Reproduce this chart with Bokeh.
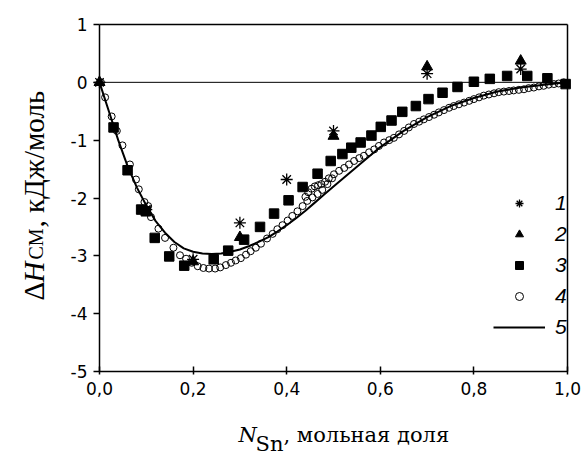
import math
from bokeh.plotting import figure
from bokeh.models import Label, Legend, LegendItem, FixedTicker, Range1d, LinearAxis
from bokeh.embed import file_html
from bokeh.resources import INLINE

# ---- data ----
x_ticks = [0.0, 0.2, 0.4, 0.6, 0.8, 1.0]
x_tick_labels = ["0,0", "0,2", "0,4", "0,6", "0,8", "1,0"]
y_ticks = [-5, -4, -3, -2, -1, 0, 1]
y_tick_labels = ["-5", "-4", "-3", "-2", "-1", "0", "1"]
legend_labels = ["1", "2", "3", "4", "5"]

s1_x = [0.0, 0.1, 0.2, 0.3, 0.4, 0.5, 0.7, 0.9]
s1_y = [0.0, -2.2, -3.06, -2.43, -1.68, -0.84, 0.15, 0.23]

s2_x = [0.0, 0.1, 0.2, 0.3, 0.5, 0.7, 0.9]
s2_y = [0.0, -2.22, -3.1, -2.68, -0.93, 0.27, 0.37]

s3_x = [0.030, 0.060, 0.089, 0.099, 0.118, 0.149, 0.181, 0.244, 0.275, 0.309,
        0.343, 0.373, 0.404, 0.434, 0.466, 0.494, 0.519, 0.538, 0.558, 0.581,
        0.601, 0.624, 0.647, 0.676, 0.703, 0.733, 0.765, 0.800, 0.834, 0.871,
        0.914, 0.957, 0.996]
s3_y = [-0.78, -1.52, -2.20, -2.23, -2.69, -3.01, -3.17, -3.06, -2.91, -2.72,
        -2.50, -2.27, -2.04, -1.81, -1.58, -1.36, -1.24, -1.13, -1.04, -0.92,
        -0.77, -0.66, -0.51, -0.41, -0.29, -0.18, -0.08, 0.01, 0.06, 0.11,
        0.11, 0.07, -0.03]

s4_x = [0.003, 0.012, 0.026, 0.037, 0.049, 0.065, 0.078, 0.084, 0.096, 0.104,
        0.110, 0.126, 0.140, 0.158, 0.172, 0.185, 0.197, 0.210, 0.222, 0.234,
        0.247, 0.258, 0.270, 0.281, 0.291, 0.302, 0.313, 0.323, 0.334, 0.345,
        0.358, 0.370, 0.380, 0.391, 0.402, 0.412, 0.423, 0.434, 0.444, 0.455,
        0.466, 0.476, 0.487, 0.497,
        0.440, 0.446, 0.453, 0.460, 0.467, 0.474, 0.482, 0.490,
        0.501, 0.512, 0.523, 0.533, 0.544, 0.555, 0.565, 0.576, 0.587, 0.597,
        0.608, 0.619, 0.629, 0.640, 0.651, 0.661, 0.672, 0.683, 0.693, 0.704,
        0.715, 0.725, 0.736, 0.747, 0.757, 0.768, 0.779, 0.790, 0.800, 0.811,
        0.821, 0.832, 0.843, 0.853, 0.864, 0.875, 0.885, 0.896, 0.907, 0.917,
        0.928, 0.939, 0.949, 0.960, 0.971, 0.981, 0.992]
s4_y = [0.00, -0.26, -0.59, -0.84, -1.09, -1.42, -1.68, -1.85, -2.07, -2.14,
        -2.33, -2.53, -2.69, -2.86, -2.99, -3.05, -3.12, -3.18, -3.21, -3.22,
        -3.22, -3.20, -3.16, -3.12, -3.08, -3.04, -2.98, -2.92, -2.86, -2.79,
        -2.70, -2.62, -2.54, -2.47, -2.39, -2.31, -2.23, -2.14, -2.05, -1.99,
        -1.93, -1.86, -1.76, -1.66,
        -1.98, -1.90, -1.84, -1.80, -1.78, -1.76, -1.72, -1.66,
        -1.59, -1.53, -1.48, -1.42, -1.36, -1.31, -1.27, -1.21, -1.16, -1.10,
        -1.04, -1.00, -0.96, -0.90, -0.84, -0.78, -0.72, -0.68, -0.64, -0.60,
        -0.56, -0.52, -0.48, -0.44, -0.41, -0.38, -0.35, -0.32, -0.29, -0.26,
        -0.23, -0.21, -0.19, -0.17, -0.16, -0.15, -0.14, -0.13, -0.12, -0.10,
        -0.09, -0.07, -0.06, -0.04, -0.03, -0.02, 0.00]

s5_x = [0.0, 0.02, 0.04, 0.06, 0.08, 0.10, 0.12, 0.14, 0.16, 0.18, 0.20, 0.22,
        0.24, 0.26, 0.28, 0.30, 0.32, 0.34, 0.36, 0.38, 0.40, 0.42, 0.44, 0.46,
        0.48, 0.50, 0.55, 0.60, 0.65, 0.70, 0.75, 0.80, 0.85, 0.90, 0.95, 1.0]
s5_y = [0.0, -0.50, -1.00, -1.45, -1.82, -2.13, -2.40, -2.60, -2.76, -2.87,
        -2.93, -2.96, -2.97, -2.96, -2.93, -2.89, -2.83, -2.76, -2.68, -2.58,
        -2.47, -2.35, -2.22, -2.08, -1.94, -1.80, -1.46, -1.12, -0.84, -0.60,
        -0.41, -0.27, -0.16, -0.09, -0.04, 0.0]

# ---- layout geometry (pixels on the page) ----
W, H = 585, 456
BOX_L, BOX_R, BOX_T, BOX_B = 99.0, 567.0, 24.0, 371.0
x0, x1 = x_ticks[0], x_ticks[-1]
y0, y1 = y_ticks[0], y_ticks[-1]
kx = (BOX_R - BOX_L) / (x1 - x0)
ky = (BOX_B - BOX_T) / (y1 - y0)
xr = Range1d(x0 - BOX_L / kx, x1 + (W - BOX_R) / kx)
yr = Range1d(y0 - (H - BOX_B) / ky, y1 + BOX_T / ky)


def dx(px):
    return x0 + (px - BOX_L) / kx


def dy(py):
    return y0 + (BOX_B - py) / ky


p = figure(width=W, height=H, x_range=xr, y_range=yr,
           output_backend="svg", toolbar_location=None,
           min_border=0, min_border_left=0, min_border_right=0,
           min_border_top=0, min_border_bottom=0)
p.grid.visible = False
p.background_fill_color = "white"
p.border_fill_color = "white"
p.outline_line_color = None

p.xaxis.fixed_location = y0
p.xaxis.bounds = (x0, x1)
p.yaxis.fixed_location = x0
p.yaxis.bounds = (y0, y1)
p.xaxis.ticker = FixedTicker(ticks=x_ticks)
p.xaxis.major_label_overrides = dict(zip(x_ticks, x_tick_labels))
p.yaxis.ticker = FixedTicker(ticks=y_ticks)
p.yaxis.major_label_overrides = dict(zip(y_ticks, y_tick_labels))
for ax in (p.xaxis, p.yaxis):
    ax.axis_line_color = "black"
    ax.axis_line_width = 1.5
    ax.major_tick_line_color = "black"
    ax.major_tick_line_width = 1.5
    ax.minor_tick_line_color = None
    ax.major_label_text_font = "DejaVu Sans"
    ax.major_label_text_font_size = "17px"
    ax.major_label_text_color = "black"
p.xaxis.major_tick_in = 5
p.xaxis.major_tick_out = 3
p.xaxis.major_label_standoff = 7
p.yaxis.major_tick_in = 0
p.yaxis.major_tick_out = 6
p.yaxis.major_label_standoff = 6

# top and right frame edges
top_ax = LinearAxis(fixed_location=y1, bounds=(x0, x1), ticker=FixedTicker(ticks=[]),
                    axis_line_color="black", axis_line_width=1.5,
                    major_tick_line_color=None, minor_tick_line_color=None,
                    major_label_text_font_size="0px")
right_ax = LinearAxis(fixed_location=x1, bounds=(y0, y1), ticker=FixedTicker(ticks=[]),
                      axis_line_color="black", axis_line_width=1.5,
                      major_tick_line_color=None, minor_tick_line_color=None,
                      major_label_text_font_size="0px")
p.add_layout(top_ax, "above")
p.add_layout(right_ax, "right")

# zero line
p.line([x0, x1], [0, 0], line_color="black", line_width=1)

r5 = p.line(s5_x, s5_y, line_color="black", line_width=2)
r3 = p.scatter(s3_x, s3_y, marker="square", size=9.5, fill_color="black", line_color="black")
r4 = p.scatter(s4_x, s4_y, marker="circle", size=7, fill_color=None, line_color="black", line_width=1)
r2 = p.scatter(s2_x, s2_y, marker="triangle", size=11, fill_color="black", line_color="black")
r1 = p.scatter(s1_x, s1_y, marker="asterisk", size=12, line_color="black", line_width=1.3)

legend = Legend(items=[LegendItem(label=legend_labels[0], renderers=[r1]),
                       LegendItem(label=legend_labels[1], renderers=[r2]),
                       LegendItem(label=legend_labels[2], renderers=[r3]),
                       LegendItem(label=legend_labels[3], renderers=[r4]),
                       LegendItem(label=legend_labels[4], renderers=[r5])],
                location=(493, H - 339))
legend.glyph_width = 52
legend.glyph_height = 20
legend.label_height = 20
legend.spacing = 7
legend.padding = 0
legend.margin = 0
legend.label_standoff = 10
legend.label_text_font = "Liberation Sans"
legend.label_text_font_style = "italic"
legend.label_text_font_size = "21px"
legend.label_text_color = "black"
legend.border_line_color = None
legend.background_fill_alpha = 0
p.add_layout(legend)

# ---- axis titles (mixed styles) ----
rot = math.pi / 2


def lab(px, py, text, size, font, style="normal", angle=0.0):
    p.add_layout(Label(x=dx(px), y=dy(py), text=text, angle=angle,
                       text_font=font, text_font_style=style,
                       text_font_size=size, text_color="black",
                       text_align="left", text_baseline="alphabetic"))


yfont = "Liberation Serif"
lab(33, 300, "Δ", "29px", yfont, angle=rot)
lab(33, 282, "H", "29px", yfont, style="italic", angle=rot)
lab(35, 259, "СМ", "20px", yfont, angle=rot)
lab(33, 227, ", кДж/моль", "29px", yfont, angle=rot)

xfont = "DejaVu Serif"
lab(238, 434, "N", "21px", xfont, style="italic")
lab(255, 443, "Sn", "21px", xfont)
lab(283, 434, ", мольная доля", "21px", xfont)

open("out.html", "w").write(file_html(p, INLINE))
